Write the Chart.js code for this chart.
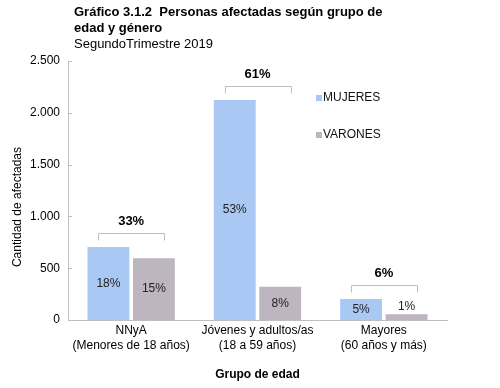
<!DOCTYPE html>
<html>
<head>
<meta charset="utf-8">
<script src="https://cdn.jsdelivr.net/npm/chart.js@4.4.1/dist/chart.umd.min.js"></script>
<style>
  body { margin: 0; background: #fff; }
  #wrap { position: relative; width: 500px; height: 388px; }
  #title { position: absolute; left: 74px; top: 4px; font-family: Arial, "Liberation Sans", sans-serif; color: #000; line-height: 16px; font-size: 13px; }
  #title b { font-weight: bold; }
</style>
</head>
<body>
<div id="wrap">
  <canvas id="chart" width="500" height="388"></canvas>
  <div id="title"><b>Gráfico 3.1.2&nbsp; Personas afectadas según grupo de<br>edad y género</b><br>SegundoTrimestre 2019</div>
</div>
<script>
const categories = [['NNyA', '(Menores de 18 años)'], ['Jóvenes y adultos/as', '(18 a 59 años)'], ['Mayores', '(60 años y más)']];
const mujeres = [705, 2124, 203];
const varones = [596, 321, 55];
const mujeresPct = ['18%', '53%', '5%'];
const varonesPct = ['15%', '8%', '1%'];
const grupoPct = ['33%', '61%', '6%'];
const yTicks = [0, 500, 1000, 1500, 2000, 2500];

const FONT = 'Arial, "Liberation Sans", sans-serif';
const AXIS_COLOR = '#bfbfbf';

const fmt = v => v.toLocaleString('de-DE');

// etiquetas, llaves, leyenda y título del eje Y
const extras = {
    id: 'extras',
    afterDatasetsDraw(chart) {
        const ctx = chart.ctx;
        const x = chart.scales.x, y = chart.scales.y;
        const area = chart.chartArea;
        ctx.save();

        // marcas del eje Y hacia adentro
        ctx.strokeStyle = AXIS_COLOR;
        ctx.lineWidth = 1;
        yTicks.forEach(t => {
            const py = Math.round(y.getPixelForValue(t)) + 0.5;
            ctx.beginPath();
            ctx.moveTo(area.left, py);
            ctx.lineTo(area.left + 4, py);
            ctx.stroke();
        });

        // porcentajes dentro de las barras
        ctx.font = '12px ' + FONT;
        ctx.fillStyle = '#222';
        ctx.textAlign = 'center';
        ctx.textBaseline = 'middle';
        const pcts = [mujeresPct, varonesPct];
        chart.data.datasets.forEach((ds, di) => {
            chart.getDatasetMeta(di).data.forEach((bar, i) => {
                const h = bar.base - bar.y;
                const py = h < 20 ? bar.y - 8 : bar.y + h / 2;
                ctx.fillText(pcts[di][i], bar.x, py);
            });
        });

        // llaves con el total del grupo
        ctx.strokeStyle = AXIS_COLOR;
        categories.forEach((c, i) => {
            const cx = x.getPixelForValue(i);
            const top = y.getPixelForValue(Math.max(mujeres[i], varones[i])) - 14;
            const x0 = Math.round(cx - 33) + 0.5, x1 = Math.round(cx + 33) + 0.5;
            const ty = Math.round(top) + 0.5;
            ctx.beginPath();
            ctx.moveTo(x0, ty + 7);
            ctx.lineTo(x0, ty);
            ctx.lineTo(x1, ty);
            ctx.lineTo(x1, ty + 7);
            ctx.stroke();
            ctx.font = 'bold 13px ' + FONT;
            ctx.fillStyle = '#000';
            ctx.fillText(grupoPct[i], cx, ty - 12);
        });

        // leyenda
        ctx.font = '12px ' + FONT;
        ctx.textAlign = 'left';
        chart.data.datasets.forEach((ds, di) => {
            const ly = 98 + di * 37;
            ctx.fillStyle = ds.backgroundColor;
            ctx.fillRect(316, ly - 3, 6, 6);
            ctx.fillStyle = '#111';
            ctx.fillText(ds.label, 323, ly);
        });

        // título eje Y
        ctx.translate(18, 207);
        ctx.rotate(-Math.PI / 2);
        ctx.textAlign = 'center';
        ctx.font = '12px ' + FONT;
        ctx.fillStyle = '#000';
        ctx.fillText('Cantidad de afectadas', 0, 0);
        ctx.restore();
    }
};

new Chart(document.getElementById('chart'), {
    type: 'bar',
    data: {
        labels: categories,
        datasets: [
            { label: 'MUJERES', data: mujeres, backgroundColor: '#aac8f4', categoryPercentage: 0.72, barPercentage: 0.92 },
            { label: 'VARONES', data: varones, backgroundColor: '#bdb5bf', categoryPercentage: 0.72, barPercentage: 0.92 }
        ]
    },
    options: {
        responsive: false,
        animation: false,
        layout: { padding: { top: 61, right: 53, left: 0, bottom: 0 } },
        plugins: { legend: { display: false }, tooltip: { enabled: false } },
        scales: {
            x: {
                grid: { display: false, drawTicks: false },
                border: { color: AXIS_COLOR },
                ticks: { color: '#000', font: { family: FONT, size: 12, lineHeight: 1.25 }, padding: 3, maxRotation: 0 },
                title: { display: true, text: 'Grupo de edad', color: '#000', font: { family: FONT, size: 12, weight: 'bold' }, padding: { top: 4, bottom: 6 } },
                afterFit: s => { s.height = 68; }
            },
            y: {
                min: 0, max: 2500,
                afterBuildTicks: s => { s.ticks = yTicks.map(v => ({ value: v })); },
                grid: { display: false, drawTicks: false },
                border: { color: AXIS_COLOR },
                ticks: { color: '#000', font: { family: FONT, size: 12 }, padding: 8, callback: v => fmt(v) },
                afterFit: s => { s.width = 68; }
            }
        }
    },
    plugins: [extras]
});
</script>
</body>
</html>
